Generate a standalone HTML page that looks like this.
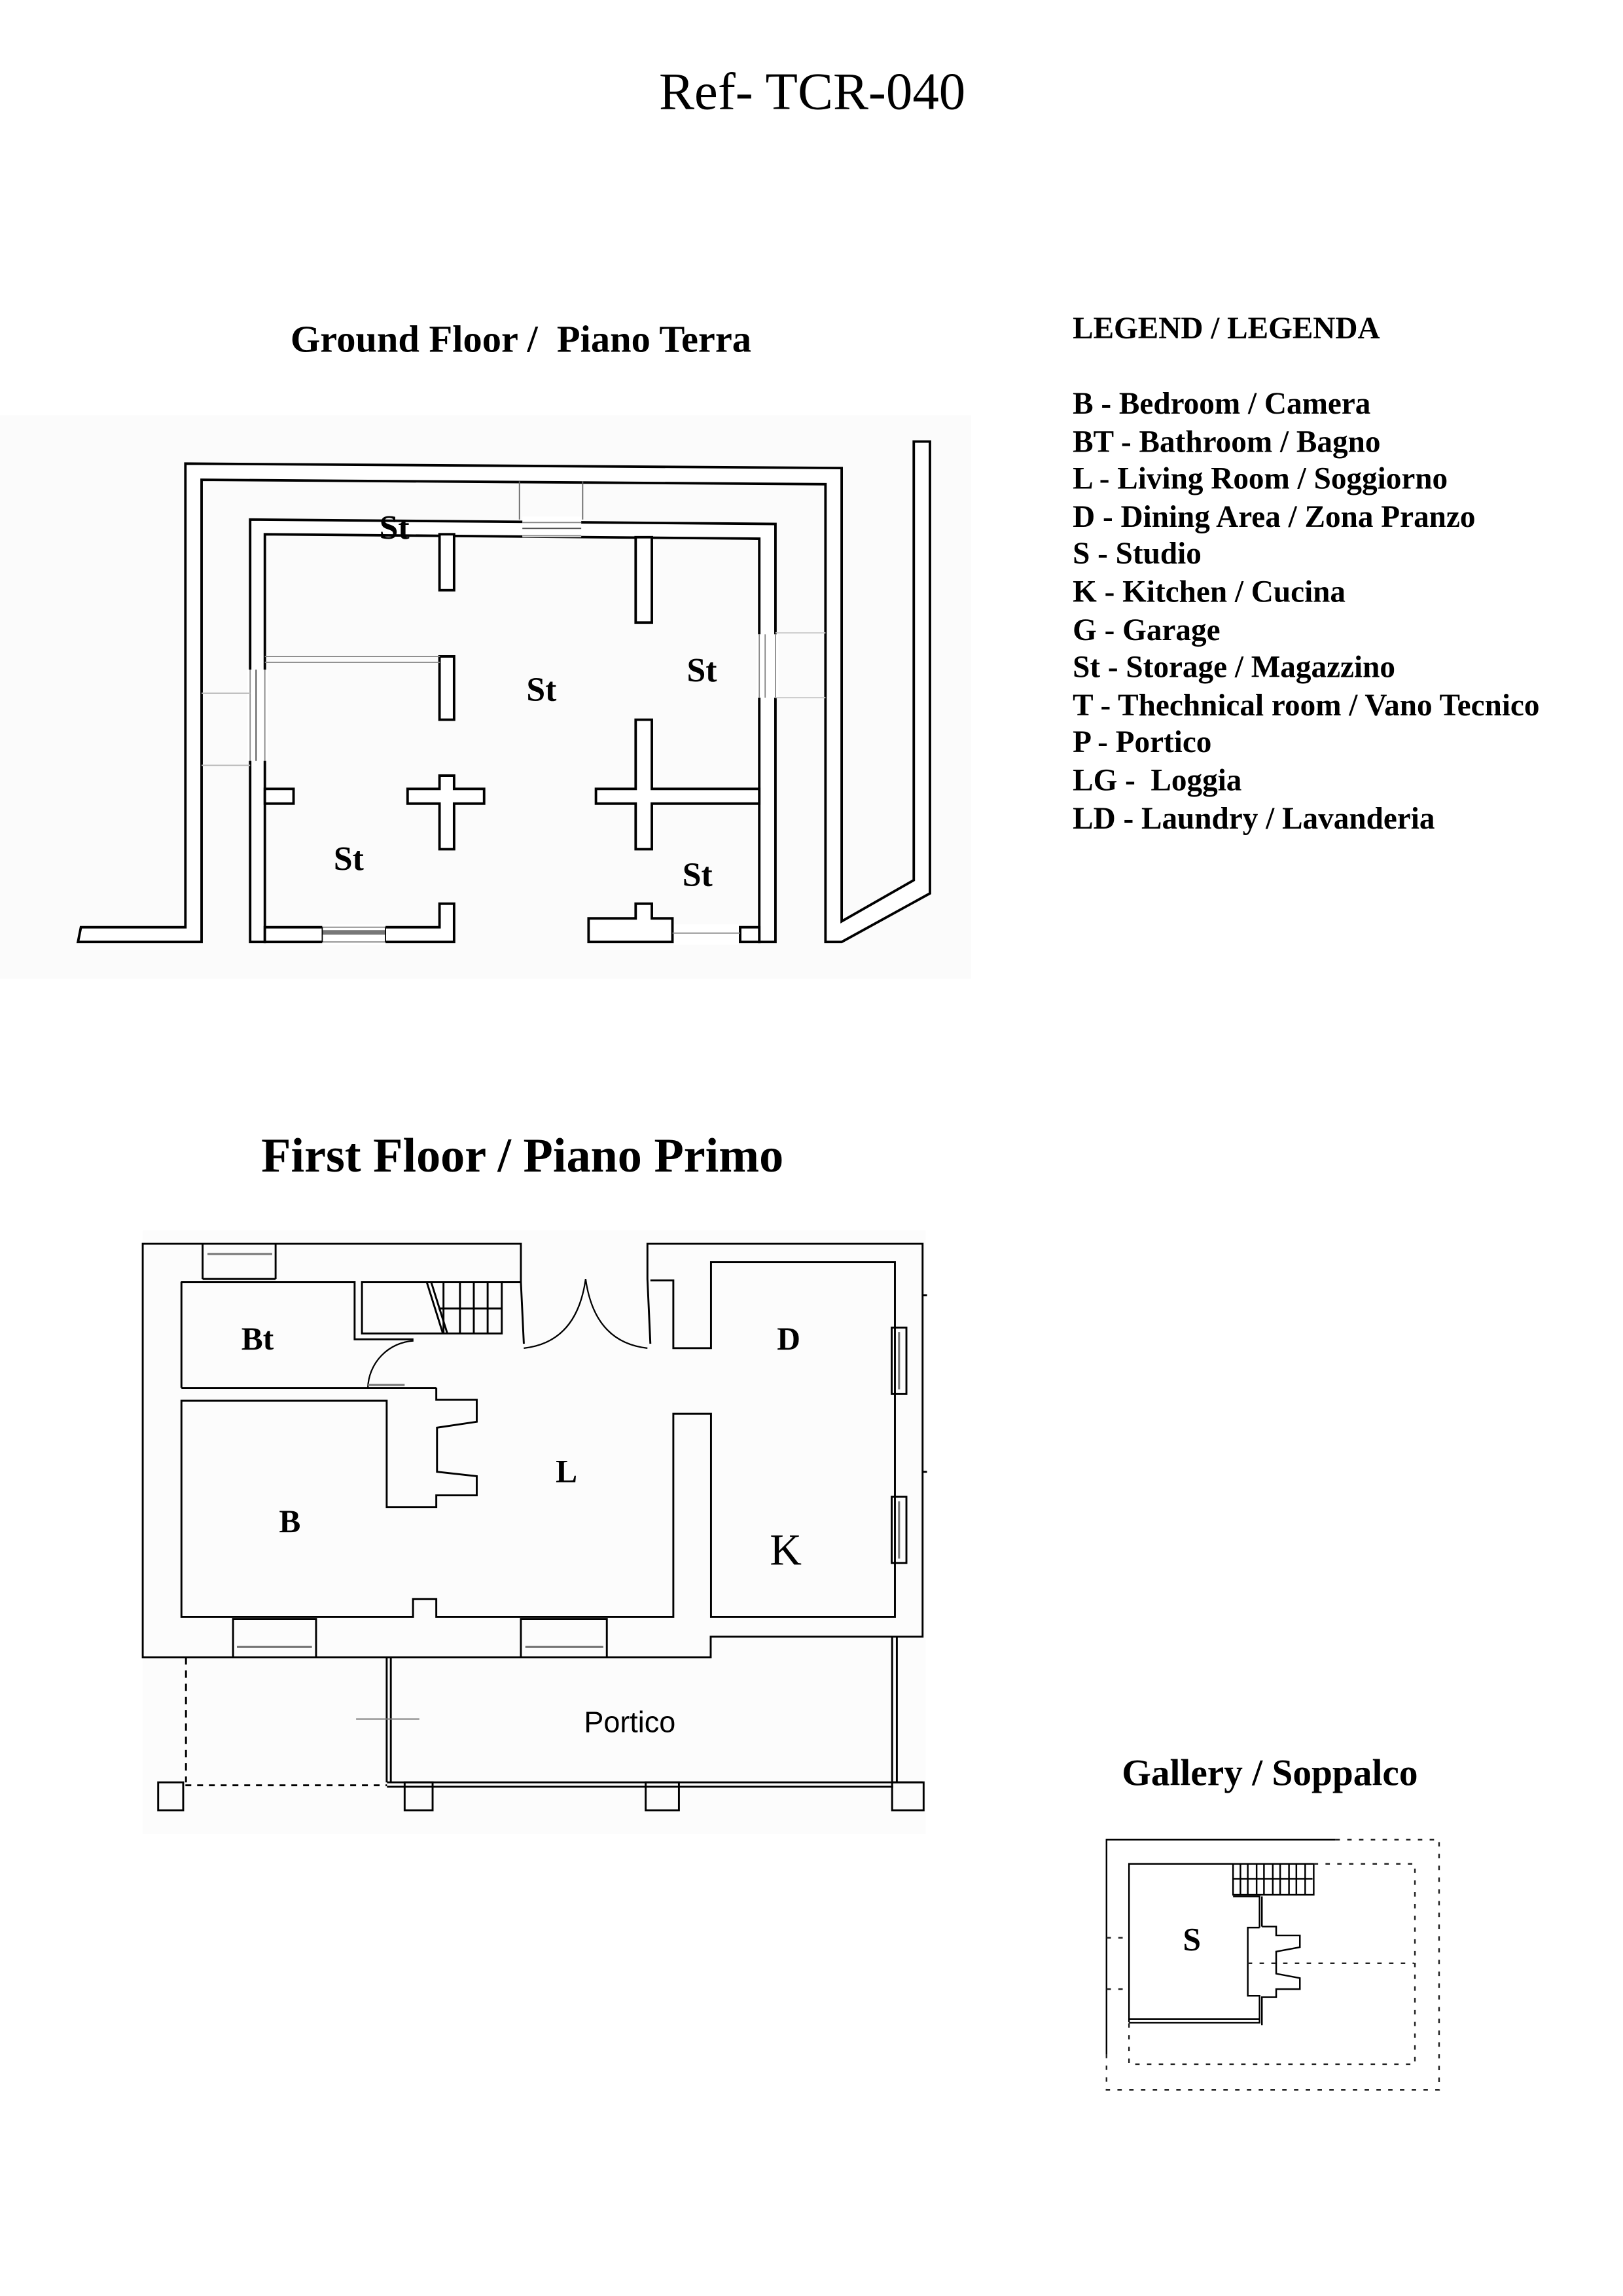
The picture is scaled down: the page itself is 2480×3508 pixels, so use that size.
<!DOCTYPE html>
<html><head><meta charset="utf-8">
<style>
html,body{margin:0;padding:0;background:#fff;}
svg{display:block;}
.s{font-family:"Liberation Serif",serif;}
.b{font-family:"Liberation Serif",serif;font-weight:bold;}
</style></head><body>
<svg width="2480" height="3508" viewBox="0 0 1103 1560" preserveAspectRatio="none" xmlns="http://www.w3.org/2000/svg">
<rect width="1103" height="1560" fill="#fff"/>
<rect x="0" y="282" width="660" height="383" fill="#fbfbfb"/>
<rect x="97" y="836" width="532" height="410" fill="#fcfcfc"/>

<text class="s" x="552" y="74" font-size="36" text-anchor="middle">Ref- TCR-040</text>
<text class="b" x="354" y="239" font-size="26" text-anchor="middle" xml:space="preserve">Ground Floor /  Piano Terra</text>
<text class="b" x="355" y="796" font-size="33" text-anchor="middle">First Floor / Piano Primo</text>
<text class="b" x="863" y="1213" font-size="25.5" text-anchor="middle">Gallery / Soppalco</text>

<g class="b" font-size="21">
<text x="729" y="230">LEGEND / LEGENDA</text>
<text x="729" y="281">B - Bedroom / Camera</text>
<text x="729" y="307">BT - Bathroom / Bagno</text>
<text x="729" y="332">L - Living Room / Soggiorno</text>
<text x="729" y="358">D - Dining Area / Zona Pranzo</text>
<text x="729" y="383">S - Studio</text>
<text x="729" y="409">K - Kitchen / Cucina</text>
<text x="729" y="435">G - Garage</text>
<text x="729" y="460">St - Storage / Magazzino</text>
<text x="729" y="486">T - Thechnical room / Vano Tecnico</text>
<text x="729" y="511">P - Portico</text>
<text x="729" y="537" xml:space="preserve">LG -  Loggia</text>
<text x="729" y="563">LD - Laundry / Lavanderia</text>
</g>

<!-- GROUND FLOOR -->
<g fill="#fff" stroke="#000" stroke-width="1.7" stroke-linejoin="miter">
<polygon points="55,630 126,630 126,315 572,318 572,626 621,598 621,300 632,300 632,607 572,640 561,640 561,329 137,326 137,640 53,640"/>
<polygon points="170,353 527,356 527,640 516,640 516,366 180,363 180,640 170,640"/>
<polygon points="180,630 298.7,630 298.7,614 308.6,614 308.6,640 180,640"/>
<polygon points="400,624 432,624 432,614 443,614 443,624 457,624 457,640 400,640"/>
<polygon points="503,630 516,630 516,640 503,640"/>
<rect x="298.7" y="363" width="9.9" height="38"/>
<rect x="298.7" y="446" width="9.9" height="43"/>
<rect x="432" y="365" width="11" height="58"/>
<rect x="180" y="536" width="19.5" height="10"/>
<polygon points="298.7,527 308.6,527 308.6,536 329,536 329,546 308.6,546 308.6,577 298.7,577 298.7,546 277,546 277,536 298.7,536"/>
<polygon points="432,489 443,489 443,536 516,536 516,546 443,546 443,577 432,577 432,546 405,546 405,536 432,536"/>
</g>
<g fill="#fff" stroke="none">
<rect x="168" y="455" width="14" height="62"/>
<rect x="514" y="431" width="15" height="43"/>
<rect x="355" y="351" width="40" height="14"/>
<rect x="219" y="628" width="43" height="14"/>
<rect x="458" y="628" width="44" height="14"/>
</g>
<g stroke="#888" stroke-width="0.8" fill="none">
<line x1="170" y1="455" x2="170" y2="517"/><line x1="180" y1="455" x2="180" y2="517"/>
<line x1="174" y1="455" x2="174" y2="517" stroke="#444"/>
<line x1="516" y1="431" x2="516" y2="474"/><line x1="527" y1="431" x2="527" y2="474"/>
<line x1="520" y1="431" x2="520" y2="474"/>
<line x1="355" y1="355" x2="395" y2="355"/><line x1="355" y1="364" x2="395" y2="364"/>
<line x1="355" y1="359" x2="395" y2="359" stroke="#555"/>
<line x1="219" y1="630" x2="262" y2="630"/><line x1="219" y1="640" x2="262" y2="640"/>
<rect x="219" y="632" width="43" height="3" fill="#777" stroke="none"/>
<line x1="219" y1="630" x2="219" y2="640" stroke="#000"/><line x1="262" y1="630" x2="262" y2="640" stroke="#000"/>
<line x1="457" y1="634" x2="503" y2="634"/>
<line x1="180" y1="446" x2="299" y2="446"/><line x1="180" y1="450" x2="299" y2="450"/>
<line x1="353" y1="327" x2="353" y2="353" stroke="#666"/><line x1="396" y1="327" x2="396" y2="353" stroke="#666"/>
<line x1="137" y1="471" x2="170" y2="471" stroke="#bbb"/><line x1="137" y1="520" x2="170" y2="520" stroke="#bbb"/>
<line x1="527" y1="430" x2="561" y2="430" stroke="#ccc"/><line x1="527" y1="474" x2="561" y2="474" stroke="#ccc"/>
</g>
<g class="b" font-size="23" text-anchor="middle">
<text x="268" y="366">St</text>
<text x="368" y="476">St</text>
<text x="477" y="463">St</text>
<text x="237" y="591">St</text>
<text x="474" y="602">St</text>
</g>

<!-- FIRST FLOOR -->
<g fill="none" stroke="#000" stroke-width="1.3">
<polyline points="356,913 354,871 354,845 97,845 97,1126 483,1126 483,1112 627,1112 627,845 440,845 440,869 442,913"/>
<polyline points="123,871 241,871 241,910 281,910"/>
<polyline points="123.3,943 123.3,871"/>
<line x1="123.3" y1="943" x2="296.5" y2="943"/>
<rect x="246" y="871" width="95" height="35"/>
<line x1="290" y1="871" x2="301" y2="906"/>
<line x1="293" y1="871" x2="304" y2="906"/>
<line x1="301.4" y1="871" x2="301.4" y2="906"/>
<line x1="312.6" y1="871" x2="312.6" y2="906"/>
<line x1="322" y1="871" x2="322" y2="906"/>
<line x1="331.4" y1="871" x2="331.4" y2="906"/>
<line x1="298" y1="889" x2="341" y2="889"/>
<line x1="341" y1="871" x2="354" y2="871"/>
<path d="M281,911 A33,33 0 0 0 250,943" stroke-width="1"/>
<path d="M356,916 Q392,912 398,869 M440,916 Q404,912 398,869" stroke-width="1"/>
<line x1="137.7" y1="845" x2="137.7" y2="869"/><line x1="187.3" y1="845" x2="187.3" y2="869"/>
<line x1="137.7" y1="869" x2="187.3" y2="869"/>
<polyline points="442,869.9 457.6,869.9 457.6,916 483.2,916 483.2,857.6 608.2,857.6 608.2,1098.6 483.2,1098.6 483.2,960.6 457.6,960.6 457.6,1098.6 296.5,1098.6 296.5,1086.5 280.7,1086.5 280.7,1098.6 123.3,1098.6 123.3,951.7 262.8,951.7 262.8,1024 296.5,1024 296.5,1016 324,1016 324,1003 297,1000 297,970 324,966 324,951 296.5,951 296.5,943"/>
<polyline points="158.4,1126 158.4,1100 214.8,1100 214.8,1126"/>
<polyline points="354,1126 354,1100 412.4,1100 412.4,1126"/>
<rect x="606" y="902" width="10" height="45"/>
<rect x="606" y="1017" width="10" height="45"/>
<line x1="627" y1="880" x2="630" y2="880"/><line x1="627" y1="1000" x2="630" y2="1000"/>
<line x1="262.8" y1="1126" x2="262.8" y2="1211"/><line x1="265.6" y1="1126" x2="265.6" y2="1211"/>
<line x1="606.3" y1="1112" x2="606.3" y2="1211"/><line x1="609.5" y1="1112" x2="609.5" y2="1211"/>
<line x1="263" y1="1211" x2="627" y2="1211"/><line x1="263" y1="1214" x2="607" y2="1214"/>
<rect x="107.5" y="1211" width="17" height="19"/>
<rect x="275" y="1211" width="19" height="19"/>
<rect x="438.8" y="1211" width="22.6" height="19"/>
<rect x="606.3" y="1211" width="21.4" height="19"/>
<line x1="126.4" y1="1126" x2="126.4" y2="1211" stroke-dasharray="5,4"/>
<line x1="126" y1="1213" x2="263" y2="1213" stroke-dasharray="4,4"/>
<line x1="242" y1="1168" x2="285" y2="1168" stroke="#777" stroke-width="0.9"/>
</g>
<g stroke="#777" stroke-width="1.4">
<line x1="141" y1="852" x2="185" y2="852"/>
<line x1="250" y1="941" x2="275" y2="941"/>
<line x1="161" y1="1119" x2="212" y2="1119"/>
<line x1="357" y1="1119" x2="410" y2="1119"/>
<line x1="611" y1="905" x2="611" y2="944"/>
<line x1="611" y1="1020" x2="611" y2="1059"/>
</g>
<g class="b" font-size="22" text-anchor="middle">
<text x="175" y="917">Bt</text>
<text x="536" y="917">D</text>
<text x="385" y="1007">L</text>
<text x="197" y="1041">B</text>
</g>
<text class="s" x="534" y="1063" font-size="30" text-anchor="middle">K</text>
<text x="428" y="1177" font-size="20" text-anchor="middle" font-family="Liberation Sans, sans-serif">Portico</text>

<!-- GALLERY -->
<g fill="none" stroke="#000" stroke-width="1.1">
<polyline points="752,1396 752,1250 907.6,1250"/>
<polyline points="767.3,1374 767.3,1266.4 838,1266.4"/>
<rect x="838" y="1266.4" width="54.8" height="21"/>
<line x1="843" y1="1266" x2="843" y2="1287"/>
<line x1="848" y1="1266" x2="848" y2="1287"/>
<line x1="854" y1="1266" x2="854" y2="1287"/>
<line x1="859" y1="1266" x2="859" y2="1287"/>
<line x1="865" y1="1266" x2="865" y2="1287"/>
<line x1="870" y1="1266" x2="870" y2="1287"/>
<line x1="876" y1="1266" x2="876" y2="1287"/>
<line x1="881" y1="1266" x2="881" y2="1287"/>
<line x1="887" y1="1266" x2="887" y2="1287"/>
<line x1="838" y1="1276.5" x2="892" y2="1276.5"/>
<polyline points="838,1288.5 856,1288.5 856,1309.7"/>
<polyline points="857.6,1288.5 857.6,1309"/>
<polyline points="856,1309.7 848,1309.7 848,1356 856,1356 856,1374.3 767.3,1374.3"/>
<polyline points="857.6,1309 867.3,1309 867.3,1315 883.4,1315 883.4,1323 867.3,1326 867.3,1341 883.4,1344 883.4,1351.5 867.3,1351.5 867.3,1357 857.6,1357 857.6,1376"/>
<line x1="767.3" y1="1371.8" x2="856" y2="1371.8"/>
</g>
<g fill="none" stroke="#222" stroke-width="1.1" stroke-dasharray="3,5">
<polyline points="907.6,1250 978,1250 978,1420 752,1420 752,1396"/>
<polyline points="892.8,1266.4 961.6,1266.4 961.6,1402.5 767.3,1402.5 767.3,1374"/>
<line x1="848" y1="1334" x2="961" y2="1334"/>
<line x1="752" y1="1316.6" x2="767" y2="1316.6"/>
<line x1="752" y1="1351.5" x2="767" y2="1351.5"/>
</g>
<text class="b" x="810" y="1325" font-size="22" text-anchor="middle">S</text>
</svg>
</body></html>
